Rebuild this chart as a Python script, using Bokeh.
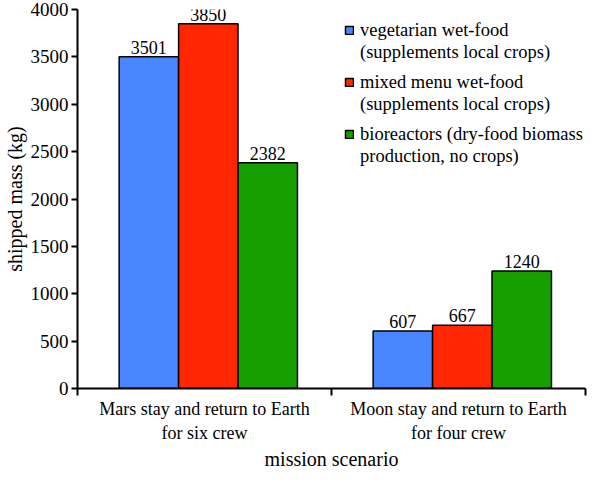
from bokeh.plotting import figure
from bokeh.models import (ColumnDataSource, FixedTicker, Range1d, LabelSet, Legend,
                          LegendItem, Title)
from bokeh.core.properties import value
from bokeh.embed import file_html
from bokeh.resources import INLINE

scenarios = ["Mars stay and return to Earth\nfor six crew",
             "Moon stay and return to Earth\nfor four crew"]
series = [["vegetarian wet-food", "(supplements local crops)"],
          ["mixed menu wet-food", "(supplements local crops)"],
          ["bioreactors (dry-food biomass", "production, no crops)"]]
vegetarian = [3501, 607]
mixed = [3850, 667]
bioreactors = [2382, 1240]
colors = ["#4a86ff", "#ff2600", "#15a000"]
y_ticks = [0, 500, 1000, 1500, 2000, 2500, 3000, 3500, 4000]

FONT = "Liberation Serif"
BAR_W = 0.234
CENTER = 0.515

p = figure(width=592, height=469, output_backend="svg", toolbar_location=None,
           x_range=Range1d(0, 2), y_range=Range1d(0, 4000),
           min_border_left=77, min_border_right=7, min_border_top=9, min_border_bottom=80)
p.outline_line_color = None
p.grid.grid_line_color = None

bar_renderers = []
for i, (vals, col) in enumerate(zip([vegetarian, mixed, bioreactors], colors)):
    xs = [k + CENTER + (i - 1) * BAR_W for k in range(len(scenarios))]
    src = ColumnDataSource(dict(x=xs, top=vals, lab=[str(v) for v in vals]))
    r = p.vbar(x="x", top="top", width=BAR_W, bottom=0, source=src,
               fill_color=col, line_color="black", line_width=1.5)
    bar_renderers.append(r)
    p.add_layout(LabelSet(x="x", y="top", text="lab", source=src, text_align="center",
                          text_baseline="bottom", y_offset=3, text_font=value(FONT),
                          text_font_size="18px", text_color="black"))

# invisible renderer used for the second (glyph-less) line of each legend entry
blank = p.vbar(x=[], top=[], width=0.1, fill_alpha=0, line_alpha=0)

# legend: one small legend per series, positioned in screen units from the frame's bottom-left
LEG_X = 267
LEG_BOTTOM = 325
LEG_STEP = 52
for i, (lines, r) in enumerate(zip(series, bar_renderers)):
    leg = Legend(items=[LegendItem(label=lines[0], renderers=[r]),
                        LegendItem(label=lines[1], renderers=[blank])],
                 location=(LEG_X, LEG_BOTTOM - i * LEG_STEP),
                 background_fill_alpha=0, border_line_color=None,
                 label_text_font=FONT, label_text_font_size="18.5px",
                 label_text_color="black", glyph_width=10, glyph_height=10,
                 label_height=22, label_standoff=6, spacing=0, padding=0, margin=0)
    p.add_layout(leg)

p.xaxis.ticker = FixedTicker(ticks=[k + 0.5 for k in range(len(scenarios))],
                             minor_ticks=list(range(len(scenarios) + 1)))
p.xaxis.major_label_overrides = {k + 0.5: s for k, s in enumerate(scenarios)}
p.xaxis.major_tick_out = 0
p.xaxis.major_tick_in = 0
p.xaxis.minor_tick_out = 7
p.xaxis.minor_tick_in = 0

p.add_layout(Title(text="mission scenario", align="center", text_font=FONT,
                   text_font_size="20px", text_font_style="normal", text_color="black",
                   standoff=0), "below")

p.yaxis.ticker = FixedTicker(ticks=y_ticks, minor_ticks=[])
p.yaxis.axis_label = "shipped mass (kg)"
p.yaxis.major_tick_out = 6
p.yaxis.major_tick_in = 0

for ax in (p.xaxis, p.yaxis):
    ax.axis_line_width = 2
    ax.axis_line_color = "black"
    ax.major_tick_line_width = 2
    ax.minor_tick_line_width = 2
    ax.major_label_text_font = FONT
    ax.major_label_text_color = "black"
    ax.axis_label_text_font = FONT
    ax.axis_label_text_font_size = "20px"
    ax.axis_label_text_font_style = "normal"
    ax.axis_label_text_color = "black"
p.xaxis.major_label_text_font_size = "18px"
p.yaxis.major_label_text_font_size = "19px"
p.xaxis.major_label_standoff = 3
p.yaxis.major_label_standoff = 3
p.yaxis.axis_label_standoff = 2

open("out.html", "w").write(file_html(p, INLINE))
